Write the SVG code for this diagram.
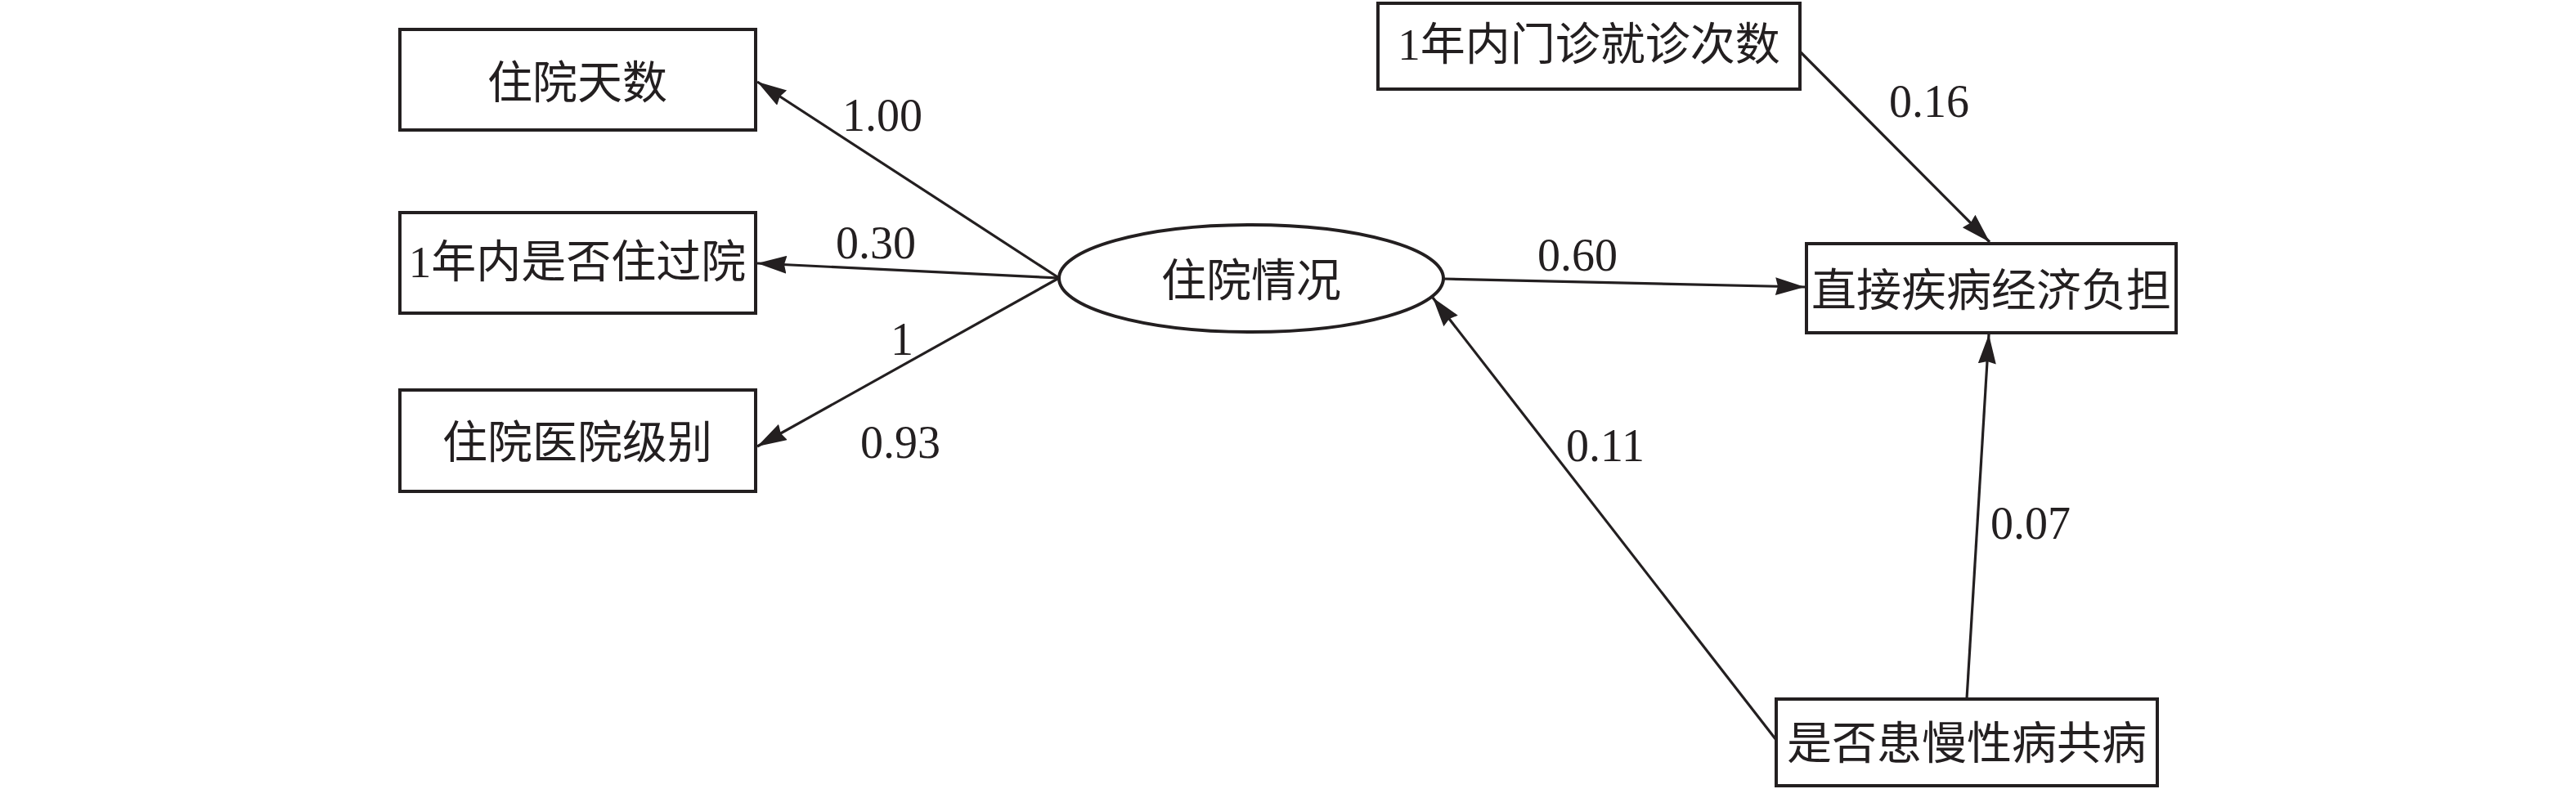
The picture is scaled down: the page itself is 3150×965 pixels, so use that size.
<svg xmlns="http://www.w3.org/2000/svg" width="3150" height="965" viewBox="0 0 3150 965">
<style>
.box{fill:#fff;stroke:#231f20;stroke-width:4}
.ell{fill:#fff;stroke:#231f20;stroke-width:4}
.lbl{font-family:"Liberation Serif","Noto Sans CJK SC",serif;font-size:55px;fill:#231f20;text-anchor:middle}
.num{font-family:"Liberation Serif",serif;font-size:56px;fill:#231f20;text-anchor:middle}
.edge{stroke:#231f20;stroke-width:3.2;fill:none;marker-end:url(#arr)}
</style>
<defs>
<marker id="arr" markerUnits="userSpaceOnUse" markerWidth="40" markerHeight="24" refX="36" refY="11" orient="auto">
<path d="M0,0 L36,11 L0,22 L3,11 z" fill="#231f20"/>
</marker>
</defs>
<rect width="3150" height="965" fill="#fff"/>
<g id="connectors">
<line class="edge" x1="1295" y1="340" x2="926" y2="100"/>
<line class="edge" x1="1295" y1="340" x2="926" y2="322"/>
<line class="edge" x1="1295" y1="340" x2="926" y2="546"/>
<line class="edge" x1="1765" y1="341" x2="2207" y2="351"/>
<line class="edge" x1="2201" y1="63" x2="2433" y2="296"/>
<line class="edge" x1="2405" y1="855" x2="2432" y2="409"/>
<line class="edge" x1="2172" y1="905" x2="1752" y2="364"/>
<text class="num" x="1079" y="160">1.00</text>
<text class="num" x="1071" y="316">0.30</text>
<text class="num" x="1103" y="434">1</text>
<text class="num" x="1101" y="560">0.93</text>
<text class="num" x="1929" y="331">0.60</text>
<text class="num" x="2359" y="143">0.16</text>
<text class="num" x="1963" y="564">0.11</text>
<text class="num" x="2483" y="659">0.07</text>
</g>
<g id="node-zyts">
<rect class="box" x="489" y="36" width="435" height="123"/>
<text class="lbl" x="706" y="120">住院天数</text>
</g>
<g id="node-sfzgy">
<rect class="box" x="489" y="260" width="435" height="123"/>
<text class="lbl" x="706" y="339">1年内是否住过院</text>
</g>
<g id="node-yyjb">
<rect class="box" x="489" y="477" width="435" height="124"/>
<text class="lbl" x="706" y="560">住院医院级别</text>
</g>
<g id="node-zyqk">
<ellipse class="ell" cx="1530" cy="340.5" rx="235" ry="65.5"/>
<text class="lbl" x="1530" y="362">住院情况</text>
</g>
<g id="node-mzcs">
<rect class="box" x="1685" y="4" width="516" height="105"/>
<text class="lbl" x="1943" y="73">1年内门诊就诊次数</text>
</g>
<g id="node-jjfd">
<rect class="box" x="2209" y="298" width="452" height="109"/>
<text class="lbl" x="2435" y="374">直接疾病经济负担</text>
</g>
<g id="node-gb">
<rect class="box" x="2172" y="855" width="466" height="106"/>
<text class="lbl" x="2405" y="928">是否患慢性病共病</text>
</g>
</svg>
